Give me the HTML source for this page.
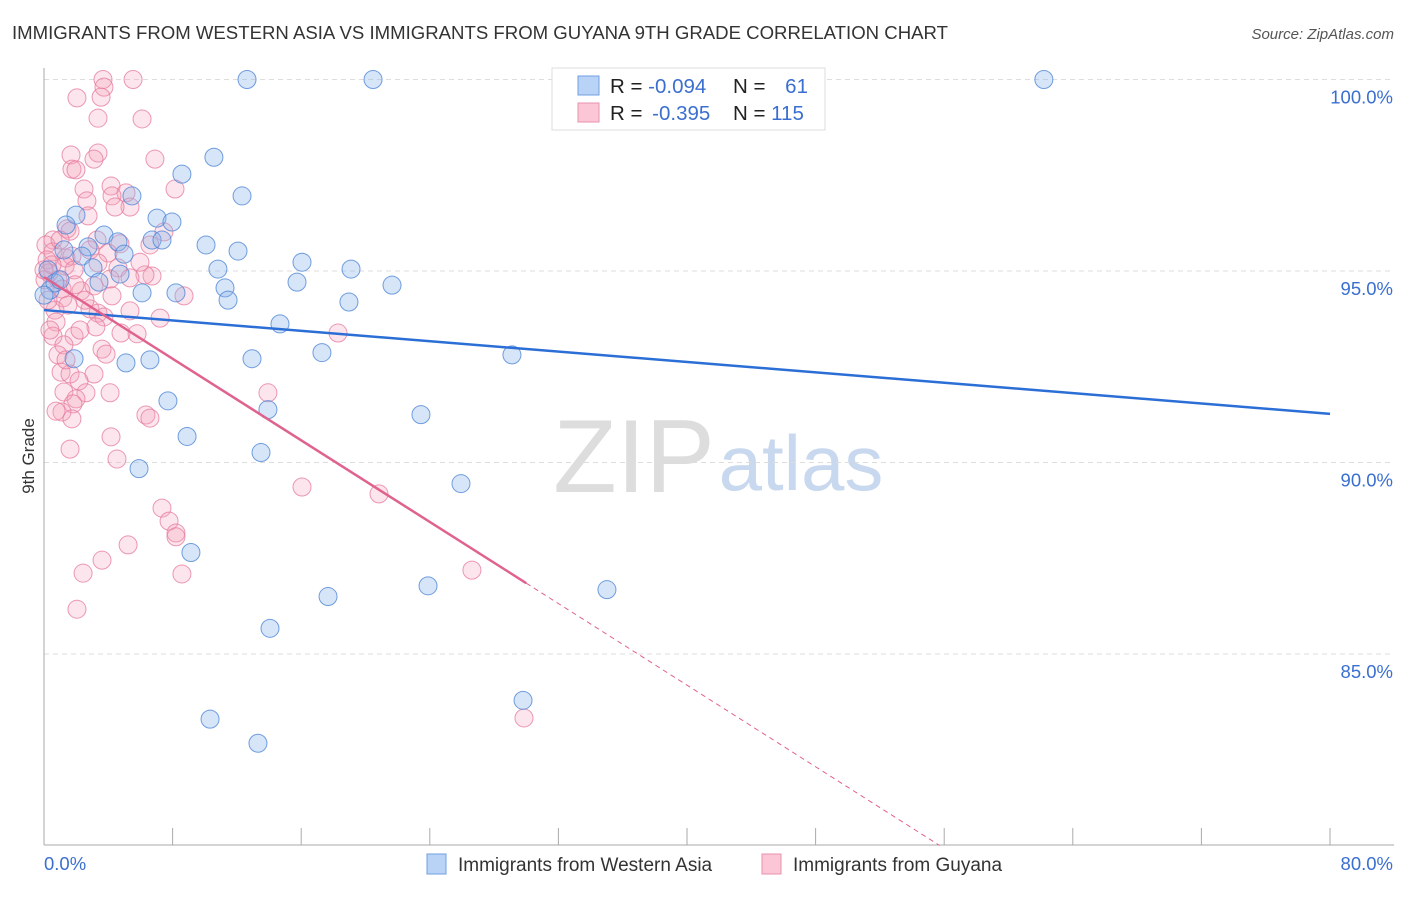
<!DOCTYPE html>
<html><head><meta charset="utf-8"><style>
body{margin:0;background:#fff;font-family:"Liberation Sans",sans-serif;}
svg text{font-family:"Liberation Sans",sans-serif;}
</style></head><body>
<svg id="chart" width="1406" height="892">
<text x="12" y="39" font-size="18.6" fill="#333">IMMIGRANTS FROM WESTERN ASIA VS IMMIGRANTS FROM GUYANA 9TH GRADE CORRELATION CHART</text>
<text x="1394" y="39" font-size="15" fill="#555" text-anchor="end" font-style="italic">Source: ZipAtlas.com</text>
<text x="0" y="0" font-size="17" fill="#333" transform="translate(34,456) rotate(-90)" text-anchor="middle">9th Grade</text>
<g>
<text x="634" y="492" font-size="104" fill="#ddd" text-anchor="middle" font-family="Liberation Serif">ZIP</text>
<text x="801" y="490" font-size="78" fill="#c8d8ee" text-anchor="middle">atlas</text>
</g>
<g id="grid"></g><g id="axes"></g><g id="pts"></g><g id="lines"></g>
<g>
<rect x="552" y="68" width="273" height="62" fill="#fff" stroke="#ddd"/>
<rect x="578" y="76" width="21" height="19" fill="#b8d3f5" stroke="#6f9fe0"/>
<rect x="578" y="103" width="21" height="19" fill="#fbc6d5" stroke="#ea92ae"/>
<text x="610" y="93" font-size="20.5" fill="#222">R = <tspan fill="#3a6fd0">-0.094</tspan></text>
<text x="733" y="93" font-size="20.5" fill="#222">N = <tspan fill="#3a6fd0" dx="14">61</tspan></text>
<text x="610" y="120" font-size="20.5" fill="#222">R = <tspan fill="#3a6fd0" dx="4">-0.395</tspan></text>
<text x="733" y="120" font-size="20.5" fill="#222">N = <tspan fill="#3a6fd0">115</tspan></text>
</g>
<g>
<rect x="427" y="854" width="19" height="20" fill="#b8d3f5" stroke="#6f9fe0"/>
<text x="458" y="871" font-size="19" fill="#333">Immigrants from Western Asia</text>
<rect x="762" y="854" width="19" height="20" fill="#fbc6d5" stroke="#ea92ae"/>
<text x="793" y="871" font-size="19" fill="#333">Immigrants from Guyana</text>
</g>
</svg>
<script>
const blueX=[12.63,20.47,62.2,42.36,10.57,8.58,12.32,5.47,7.03,7.96,1.99,1.37,3.73,2.74,4.60,6.72,7.34,10.08,12.07,1.24,4.98,2.36,16.05,19.10,10.82,3.05,4.73,15.74,21.65,11.26,3.42,6.10,8.21,11.45,18.97,14.68,17.29,29.11,1.87,5.10,6.59,12.94,7.71,13.93,23.45,8.90,13.50,5.91,25.94,9.14,23.89,35.02,17.67,14.06,29.80,10.33,13.31,0.37,0.25,0.68,1.00,0.0];
const blueY=[100,100,100,100,97.97,97.53,96.96,96.96,96.38,96.28,96.46,96.2,95.94,95.63,95.76,95.81,95.81,95.68,95.52,95.55,95.44,95.39,95.23,95.05,95.05,95.08,94.92,94.71,94.63,94.56,94.71,94.43,94.43,94.24,94.19,93.62,92.87,92.81,92.71,92.60,92.68,92.71,91.61,91.38,91.25,90.68,90.26,89.84,89.45,87.65,86.78,86.68,86.50,85.67,83.79,83.30,82.67,94.50,95.03,94.69,94.77,94.37];
const pinkX=[3.67,5.54,3.73,3.55,2.05,3.36,6.10,1.68,3.36,6.90,3.11,1.74,1.99,8.15,2.49,4.17,5.10,4.23,5.35,2.67,4.42,2.74,1.43,1.62,7.46,3.30,4.73,0.56,0.12,0.56,3.98,0.19,1.37,1.74,1.31,3.36,4.60,6.72,6.28,5.35,1.87,0.31,0.87,1.12,4.11,3.11,2.30,8.71,4.23,1.18,2.86,5.35,7.22,0.68,3.36,3.73,0.75,3.23,4.79,5.79,0.56,1.87,1.24,3.61,3.86,18.29,1.06,1.62,3.11,2.18,1.24,2.61,4.11,1.99,1.80,1.12,0.75,6.34,6.59,1.74,13.93,4.17,1.62,4.54,16.05,20.84,7.34,7.78,8.21,8.21,5.23,3.61,2.43,8.58,26.62,2.05,29.86,0.25,0.06,0.50,1.00,0,0.37,0.87,1.49,2.24,2.86,5.97,6.59,2.55,1.93,1.37];
const pinkY=[100,100,99.8,99.54,99.52,98.99,98.97,98.03,98.08,97.92,97.92,97.66,97.64,97.14,97.14,97.22,97.04,96.96,96.67,96.83,96.67,96.44,96.10,96.04,96.02,95.81,95.71,95.81,95.68,95.50,95.47,95.29,95.34,95.39,95.13,95.21,95.08,94.87,94.90,94.82,95.03,94.95,94.77,94.53,94.79,94.61,94.48,94.35,94.35,94.30,94.01,93.96,93.77,93.98,93.90,93.80,93.67,93.54,93.38,93.36,93.30,93.30,93.07,92.96,92.83,93.38,92.36,92.31,92.31,92.13,91.84,91.82,91.82,91.66,91.53,91.32,91.34,91.24,91.16,91.14,91.82,90.67,90.35,90.09,89.36,89.18,88.81,88.47,88.16,88.06,87.85,87.45,87.11,87.09,87.19,86.17,83.33,94.24,94.77,95.16,95.81,95.03,93.46,92.81,94.11,93.46,95.55,95.23,95.68,94.24,94.64,92.68];
const yTicks=[100,95,90,85];
const yTickLabels=["100.0%","95.0%","90.0%","85.0%"];
const xTickVals=[0,8,16,24,32,40,48,56,64,72,80];
const blueTrend=[93.98,91.27];
const pinkTrend=[94.84,86.85];
const pinkSolidEnd=30;

const X0=44,X1=1330,Y100=79.5,PER=38.3,BOT=845;
const sx=v=>X0+v*(X1-X0)/80;
const sy=v=>Y100+(100-v)*PER;
const NS="http://www.w3.org/2000/svg";
function mk(t,p,a){const e=document.createElementNS(NS,t);for(const k in a)e.setAttribute(k,a[k]);p.appendChild(e);return e;}
const grid=document.getElementById('grid'),axes=document.getElementById('axes'),pts=document.getElementById('pts'),lines=document.getElementById('lines');
yTicks.forEach((t,i)=>{
 const l=mk('line',grid,{x1:X0,x2:1394,y1:sy(t),y2:sy(t),stroke:'#ddd','stroke-dasharray':'5,4'});
 
 
 const tx=mk('text',grid,{x:1393,y:sy(t)+24,'font-size':18.5,fill:'#3a6fd0','text-anchor':'end'});
 tx.textContent=yTickLabels[i];
 
 
});
const ya=mk('line',axes,{x1:X0,x2:X0,y1:68,y2:BOT,stroke:'#aaa'});


const xa=mk('line',axes,{x1:X0,x2:1394,y1:BOT,y2:BOT,stroke:'#aaa'});


xTickVals.forEach(v=>{
 const t=mk('line',axes,{x1:sx(v),x2:sx(v),y1:828,y2:BOT,stroke:'#aaa'});
 
 
});
const xl0=mk('text',axes,{x:44,y:870,'font-size':18.5,fill:'#3a6fd0'});xl0.textContent='0.0%';


const xl1=mk('text',axes,{x:1393,y:870,'font-size':18.5,fill:'#3a6fd0','text-anchor':'end'});xl1.textContent='80.0%';


pinkX.forEach((v,i)=>{
 const c=mk('circle',pts,{cx:sx(v),cy:sy(pinkY[i]),r:9,fill:'rgba(244,160,188,0.28)',stroke:'rgba(230,120,155,0.75)','stroke-width':1});
 
 
});
blueX.forEach((v,i)=>{
 const c=mk('circle',pts,{cx:sx(v),cy:sy(blueY[i]),r:9,fill:'rgba(140,180,235,0.35)',stroke:'rgba(80,135,215,0.8)','stroke-width':1});
 
 
});
const bl=mk('line',lines,{x1:sx(0),y1:sy(blueTrend[0]),x2:sx(80),y2:sy(blueTrend[1]),stroke:'#2b6fd6','stroke-width':2.5});


const pl=mk('line',lines,{x1:sx(0),y1:sy(pinkTrend[0]),x2:sx(pinkSolidEnd),y2:sy(pinkTrend[1]),stroke:'#e0628e','stroke-width':2.5});


const slope=(pinkTrend[1]-pinkTrend[0])/pinkSolidEnd;
const xEnd=(80-pinkTrend[0])/slope;
const pd=mk('line',lines,{x1:sx(pinkSolidEnd),y1:sy(pinkTrend[1]),x2:sx(xEnd),y2:sy(80),stroke:'#e0628e','stroke-width':1,'stroke-dasharray':'5,4'});


</script>
</body></html>
